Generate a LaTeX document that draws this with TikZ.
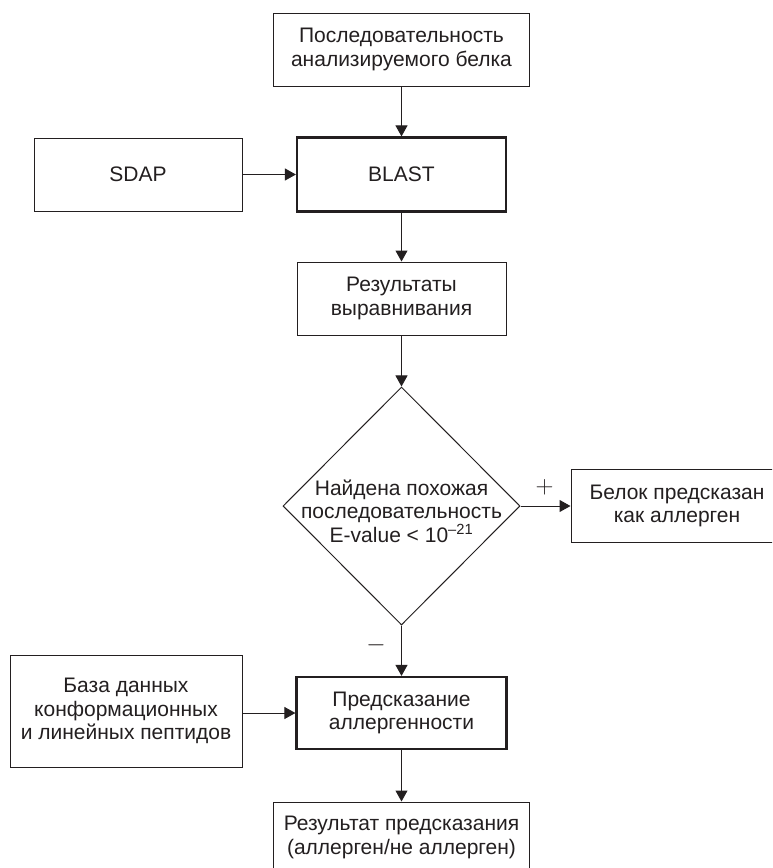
\documentclass[tikz,border=0pt]{standalone}
\usepackage{fontspec}
\setmainfont{Liberation Sans}
\usetikzlibrary{arrows.meta,shapes.geometric}
\definecolor{ink}{HTML}{231F20}
\begin{document}
\begin{tikzpicture}[x=1pt,y=-1pt,
  font=\fontsize{21}{23.5}\selectfont,
  every node/.style={text=ink},
  box/.style={draw=ink, line width=1pt, inner sep=0pt, align=center},
  thickbox/.style={box, line width=2.2pt},
  arr/.style={draw=ink, line width=1pt, -{Triangle[length=11pt,width=12pt]}},
  sign/.style={font=\fontsize{30}{30}\selectfont, inner sep=0pt}]
\useasboundingbox (0,0) rectangle (772,868);
\clip (0,0) rectangle (772,868);
\fill[white] (0,0) rectangle (772,868);

\node[box, minimum width=256, minimum height=73] (seq) at (401.5,49.5)
  {Последовательность\\анализируемого белка};
\node[box, minimum width=208, minimum height=73] (sdap) at (138,174.5) {SDAP};
\node[thickbox, minimum width=209, minimum height=74] (blast) at (401.5,174.5) {BLAST};
\node[box, minimum width=209, minimum height=73] (res) at (401.5,298.5)
  {Результаты\\выравнивания};
\node[draw=ink, line width=1pt, diamond, aspect=1, inner sep=0pt,
  minimum width=237, minimum height=238] (dec) at (401.5,506) {};
\node[align=center, inner sep=0pt] (dectext) at (401.5,511)
  {Найдена похожая\\последовательность\\E-value < 10\textsuperscript{–21}};
\node[box, minimum width=212, minimum height=73] (bel) at (677,506)
  {Белок предсказан\\как аллерген};
\node[box, minimum width=232, minimum height=112] (baza) at (126,711)
  {База данных\\конформационных\\и линейных пептидов};
\node[thickbox, minimum width=210, minimum height=72] (pred) at (401.5,713)
  {Предсказание\\аллергенности};
\node[box, minimum width=256, minimum height=71] (out) at (401.5,837.5)
  {Результат предсказания\\(аллерген/не аллерген)};

\node[sign] (plus) at (544.5,487) {$+$};
\node[sign] (minus) at (376,645) {$-$};

\draw[arr] (seq) -- (blast);
\draw[arr] (sdap) -- (blast);
\draw[arr] (blast) -- (res);
\draw[arr] (res) -- (dec);
\draw[arr] (dec) -- (bel);
\draw[arr] (dec) -- (pred);
\draw[arr] (baza.east |- pred.west) -- (pred.west);
\draw[arr] (pred) -- (out);
\end{tikzpicture}
\end{document}
